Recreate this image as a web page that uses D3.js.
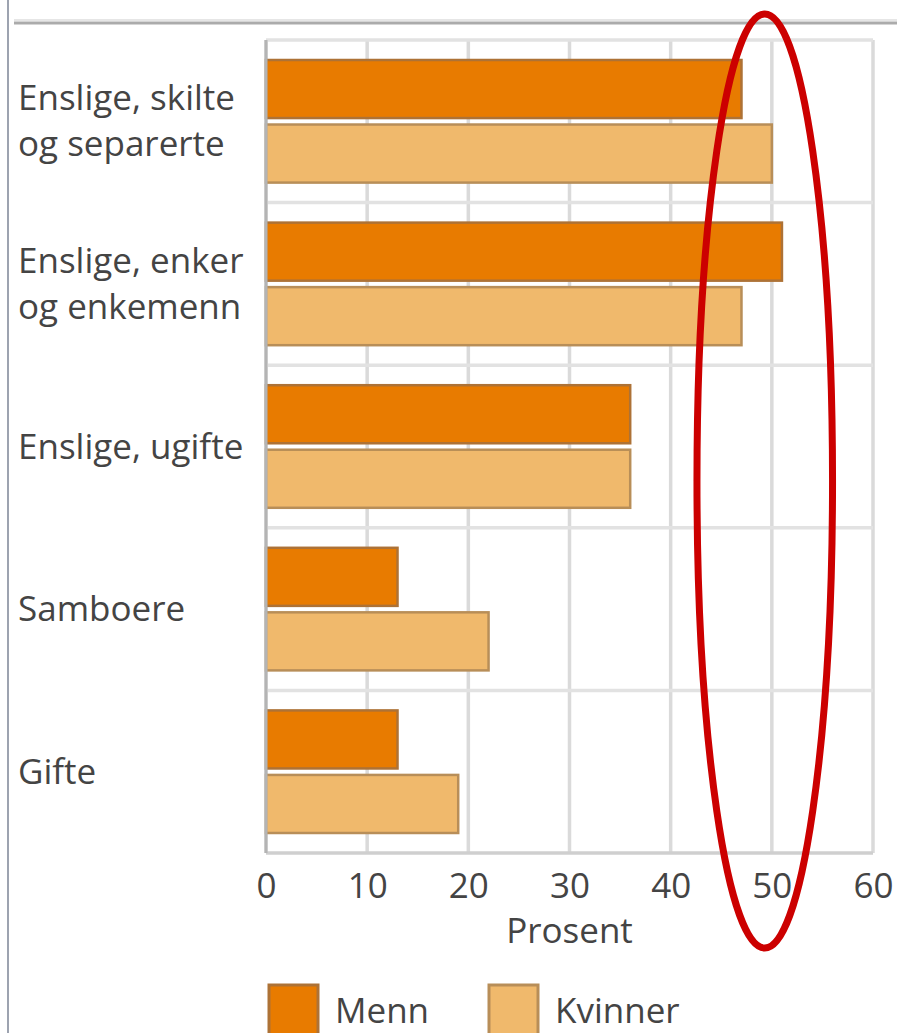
<!DOCTYPE html>
<html>
<head>
<meta charset="utf-8">
<script src="https://cdn.jsdelivr.net/npm/d3@7"></script>
<style>
  body { margin: 0; background: #fff; }
  svg { display: block; }
  text { font-family: "Open Sans", "Noto Sans", sans-serif; fill: #444; }
</style>
</head>
<body>
<div id="chart"></div>
<script>
// categories, top to bottom (label lines)
const categories = [
  ["Enslige, skilte", "og separerte"],
  ["Enslige, enker", "og enkemenn"],
  ["Enslige, ugifte"],
  ["Samboere"],
  ["Gifte"]
];
const seriesNames = ["Menn", "Kvinner"];
const menn    = [47, 51, 36, 13, 13];
const kvinner = [50, 47, 36, 22, 19];
const xTicks  = [0, 10, 20, 30, 40, 50, 60];
const highlight = [42.6, 56];   // red ring, in percent

const W = 897, H = 1033;
const margin = {top: 40, left: 266, right: 24, bottom: 180};
const width = 873 - margin.left;
const height = 853 - margin.top;
const fontSize = 35;

const fills   = {Menn: "#e87b00", Kvinner: "#f0b96c"};
const strokes = {Menn: "#ad7236", Kvinner: "#b88e58"};

let svg = d3.select("#chart")
    .append("svg")
    .attr("width", W)
    .attr("height", H);

// frame lines of the page
svg.append("line")
    .attr("x1", 8).attr("x2", 8).attr("y1", 0).attr("y2", H)
    .attr("stroke", "#7d8496").attr("stroke-width", 1.5);
svg.append("line")
    .attr("x1", 14).attr("x2", W).attr("y1", 20).attr("y2", 20)
    .attr("stroke", "#e6e6e6").attr("stroke-width", 2);
svg.append("line")
    .attr("x1", 14).attr("x2", W).attr("y1", 23).attr("y2", 23)
    .attr("stroke", "#ababab").attr("stroke-width", 3);

let g = svg.append("g")
    .attr("transform", `translate(${margin.left},${margin.top})`);

let x = d3.scaleLinear().domain([0, 60]).range([0, width]);
let y0 = d3.scaleBand()
    .domain(d3.range(categories.length))
    .range([0, height])
    .padding(0);
let y1 = d3.scaleBand()
    .domain(seriesNames)
    .range([0, y0.bandwidth()])
    .paddingInner(0.1)
    .paddingOuter(0.31);

// grid
g.append("g")
    .selectAll("line")
    .data(xTicks)
    .enter()
    .append("line")
    .attr("x1", d => x(d)).attr("x2", d => x(d))
    .attr("y1", 0).attr("y2", height)
    .attr("stroke", "#dadada").attr("stroke-width", 3.5);
g.append("g")
    .selectAll("line")
    .data(d3.range(categories.length + 1))
    .enter()
    .append("line")
    .attr("x1", 0).attr("x2", width)
    .attr("y1", d => d * y0.step()).attr("y2", d => d * y0.step())
    .attr("stroke", d => d == categories.length ? "#cfcfcf" : "#e2e2e2")
    .attr("stroke-width", 3.5);

// bars
const rows = [];
categories.forEach((c, i) => {
    rows.push({i: i, s: "Menn", v: menn[i]});
    rows.push({i: i, s: "Kvinner", v: kvinner[i]});
});
g.selectAll("rect.bar")
    .data(rows)
    .enter()
    .append("rect")
    .attr("class", "bar")
    .attr("x", x(0))
    .attr("y", d => y0(d.i) + y1(d.s))
    .attr("width", d => x(d.v) - x(0))
    .attr("height", y1.bandwidth())
    .attr("fill", d => fills[d.s])
    .attr("stroke", d => strokes[d.s])
    .attr("stroke-width", 2.5);

// y axis line
g.append("line")
    .attr("x1", 0).attr("x2", 0).attr("y1", 0).attr("y2", height)
    .attr("stroke", "#b4b4b4").attr("stroke-width", 3);

// category labels
let lab = svg.append("g")
    .selectAll("text")
    .data(categories)
    .enter()
    .append("text")
    .attr("x", 18)
    .attr("y", (d, i) => margin.top + y0(i) + y0.bandwidth() / 2)
    .attr("font-size", fontSize);
lab.selectAll("tspan")
    .data(d => d.map((t, k) => ({t: t, k: k, n: d.length})))
    .enter()
    .append("tspan")
    .attr("x", 18)
    .attr("dy", d => d.k == 0 ? ((-(d.n - 1) * 46 / 2) + 12) : 46)
    .text(d => d.t);

// x axis
let xAxis = g.append("g")
    .attr("transform", `translate(0,${height})`)
    .call(d3.axisBottom(x).tickValues(xTicks).tickSize(0).tickPadding(20));
xAxis.select(".domain").remove();
xAxis.selectAll("text")
    .attr("font-size", fontSize)
    .attr("font-family", "\"Open Sans\", \"Noto Sans\", sans-serif")
    .attr("fill", "#444");

g.append("text")
    .attr("x", x(30))
    .attr("y", height + 90)
    .attr("text-anchor", "middle")
    .attr("font-size", fontSize)
    .text("Prosent");

// legend
let leg = svg.append("g")
    .selectAll("g")
    .data(seriesNames)
    .enter()
    .append("g")
    .attr("transform", (d, i) => `translate(${[269, 489][i]},985)`);
leg.append("rect")
    .attr("width", 49).attr("height", 60)
    .attr("fill", d => fills[d])
    .attr("stroke", d => strokes[d])
    .attr("stroke-width", 3);
leg.append("text")
    .attr("x", 66)
    .attr("y", 38)
    .attr("font-size", fontSize)
    .text(d => d);

// red ring
svg.append("ellipse")
    .attr("cx", margin.left + x((highlight[0] + highlight[1]) / 2))
    .attr("cy", 481)
    .attr("rx", (x(highlight[1]) - x(highlight[0])) / 2)
    .attr("ry", 467)
    .attr("fill", "none")
    .attr("stroke", "#cc0000")
    .attr("stroke-width", 7);
</script>
</body>
</html>
